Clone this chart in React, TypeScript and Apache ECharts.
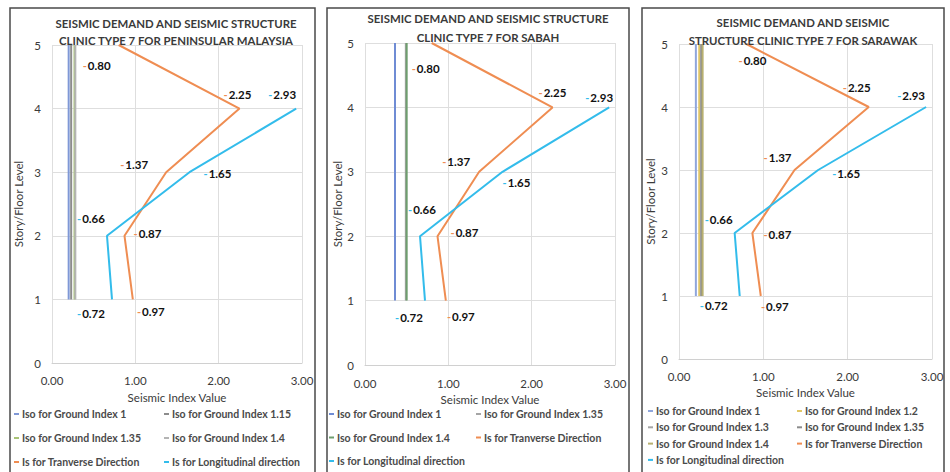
import React, { useEffect, useRef } from "react";
import * as echarts from "echarts";

// ---- data ----
const floors = [1, 2, 3, 4, 5];
const transverseValues = [0.97, 0.87, 1.37, 2.25, 0.8];
const longitudinalValues = [0.72, 0.66, 1.65, 2.93];

const p1GroundIndex = ["1", "1.15", "1.35", "1.4"];
const p1Iso = [0.2, 0.23, 0.27, 0.28];
const p2GroundIndex = ["1", "1.35", "1.4"];
const p2Iso = [0.36, 0.49, 0.5];
const p3GroundIndex = ["1", "1.2", "1.3", "1.35", "1.4"];
const p3Iso = [0.2, 0.24, 0.26, 0.27, 0.28];

const p1Title = ["SEISMIC DEMAND AND SEISMIC STRUCTURE", "CLINIC TYPE 7 FOR PENINSULAR MALAYSIA"];
const p2Title = ["SEISMIC DEMAND AND SEISMIC STRUCTURE", "CLINIC TYPE 7 FOR SABAH"];
const p3Title = ["SEISMIC DEMAND AND SEISMIC", "STRUCTURE CLINIC TYPE 7 FOR SARAWAK"];

const xTicks = [0, 1, 2, 3];
const yTicks = [0, 1, 2, 3, 4, 5];

// ---- styles ----
const FONT = "Lato";
const TXT = "#3A3A3A";
const ORANGE = "#EF8D52";
const CYAN = "#33BCEB";
const p1IsoColors = ["#7F98D6", "#8C8C8C", "#A9C477", "#B4B4B4"];
const p2IsoColors = ["#6F8CD4", "#A5A5A5", "#6E9E6E"];
const p3IsoColors = ["#8FA6DC", "#E2C766", "#A5A5A5", "#8C8C8C", "#B8B070"];

// label offsets (px) for each point, per panel
const p1TransOff = [[18, 12], [23, -2], [-32, -8], [-2, -14], [-22, 20]];
const p1LongOff = [[-21, 14], [-16, -17], [28, 1], [-14, -14]];
const p2TransOff = [[15, 16], [27, -4], [-23, -10], [0, -15], [-6, 25]];
const p2LongOff = [[-16, 17], [2, -27], [14, 11], [-10, -10]];
const p3TransOff = [[14, 10], [25, 1], [-17, -13], [-12, -20], [6, 16]];
const p3LongOff = [[-26, 9], [-16, -14], [28, 3], [-15, -12]];

type Panel = {
  grid: { left: number; top: number; width: number; height: number };
  box: { x: number; w: number };
  title: string[];
  titleX: number;
  titleY: number[];
  gi: string[];
  iso: number[];
  isoColors: string[];
  transOff: number[][];
  longOff: number[][];
  legendLeft: number[];
  legendTop: number;
  legendGap: number;
  yNameGap: number;
  xLabelMargin: number;
  xNameGap: number;
};

const panels: Panel[] = [
  {
    grid: { left: 52, top: 45, width: 250, height: 318 },
    box: { x: 10, w: 305 },
    title: p1Title, titleX: 176, titleY: [23, 40],
    gi: p1GroundIndex, iso: p1Iso, isoColors: p1IsoColors,
    transOff: p1TransOff, longOff: p1LongOff,
    legendLeft: [14, 164], legendTop: 408, legendGap: 12,
    yNameGap: 28, xLabelMargin: 11, xNameGap: 28,
  },
  {
    grid: { left: 365, top: 43, width: 250, height: 322 },
    box: { x: 327, w: 302 },
    title: p2Title, titleX: 488, titleY: [18, 37],
    gi: p2GroundIndex, iso: p2Iso, isoColors: p2IsoColors,
    transOff: p2TransOff, longOff: p2LongOff,
    legendLeft: [329, 476], legendTop: 408, legendGap: 11.5,
    yNameGap: 22, xLabelMargin: 12, xNameGap: 24,
  },
  {
    grid: { left: 679, top: 44, width: 253, height: 315 },
    box: { x: 642, w: 302 },
    title: p3Title, titleX: 803, titleY: [22, 40],
    gi: p3GroundIndex, iso: p3Iso, isoColors: p3IsoColors,
    transOff: p3TransOff, longOff: p3LongOff,
    legendLeft: [648, 797], legendTop: 405, legendGap: 4.3,
    yNameGap: 23, xLabelMargin: 11, xNameGap: 27,
  },
];

function buildOption() {
  const grid: any[] = [];
  const xAxis: any[] = [];
  const yAxis: any[] = [];
  const series: any[] = [];
  const legend: any[] = [];
  const graphic: any[] = [];

  panels.forEach((p, pi) => {
    const pre = `p${pi}|`;
    grid.push({ ...p.grid, containLabel: false });
    xAxis.push({
      type: "value",
      gridIndex: pi,
      min: xTicks[0],
      max: xTicks[xTicks.length - 1],
      interval: 1,
      name: "Seismic Index Value",
      nameLocation: "middle",
      nameGap: p.xNameGap,
      nameTextStyle: { fontFamily: FONT, fontSize: 11.5, color: TXT },
      axisLine: { show: true, lineStyle: { color: "#D0D0D0" } },
      axisTick: { show: false },
      axisLabel: {
        fontFamily: FONT, fontSize: 11.5, color: TXT, margin: p.xLabelMargin,
        formatter: (v: number) => v.toFixed(2),
      },
      splitLine: { show: true, lineStyle: { color: "#DEDEDE" } },
    });
    yAxis.push({
      type: "value",
      gridIndex: pi,
      min: yTicks[0],
      max: yTicks[yTicks.length - 1],
      interval: 1,
      name: "Story/Floor Level",
      nameLocation: "middle",
      nameGap: p.yNameGap,
      nameTextStyle: { fontFamily: FONT, fontSize: 11.5, color: TXT },
      axisLine: { show: false },
      axisTick: { show: false },
      axisLabel: { fontFamily: FONT, fontSize: 11.5, color: TXT, margin: 11 },
      splitLine: { show: true, lineStyle: { color: "#DEDEDE" } },
    });

    const names: string[] = [];
    p.gi.forEach((g, i) => {
      const name = `${pre}Iso for Ground Index ${g}`;
      names.push(name);
      series.push({
        type: "line",
        name,
        xAxisIndex: pi,
        yAxisIndex: pi,
        data: floors.map((f) => [p.iso[i], f]),
        symbol: "none",
        color: p.isoColors[i],
        lineStyle: { width: 2, color: p.isoColors[i] },
        z: 2,
      });
    });

    const labelCfg = (color: string) => ({
      show: true,
      position: "inside",
      formatter: (par: any) => `{d|-}{v|${par.value[0].toFixed(2)}}`,
      rich: {
        d: { color, fontFamily: FONT, fontSize: 11, fontWeight: "bold", padding: [0, 1, 0, 0] },
        v: { color: "#111", fontFamily: FONT, fontSize: 11.5, fontWeight: "bold" },
      },
    });

    const tName = `${pre}Is for Tranverse Direction`;
    const lName = `${pre}Is for Longitudinal direction`;
    names.push(tName, lName);
    series.push({
      type: "line",
      name: tName,
      xAxisIndex: pi,
      yAxisIndex: pi,
      data: transverseValues.map((v, i) => ({
        value: [v, floors[i]],
        label: { offset: p.transOff[i] },
      })),
      symbol: "circle",
      symbolSize: 0.1,
      showSymbol: true,
      color: ORANGE,
      lineStyle: { width: 2, color: ORANGE },
      label: labelCfg(ORANGE),
      z: 3,
    });
    series.push({
      type: "line",
      name: lName,
      xAxisIndex: pi,
      yAxisIndex: pi,
      data: longitudinalValues.map((v, i) => ({
        value: [v, floors[i]],
        label: { offset: p.longOff[i] },
      })),
      symbol: "circle",
      symbolSize: 0.1,
      showSymbol: true,
      color: CYAN,
      lineStyle: { width: 2, color: CYAN },
      label: labelCfg(CYAN),
      z: 4,
    });

    [0, 1].forEach((col) => {
      legend.push({
        orient: "vertical",
        left: p.legendLeft[col],
        top: p.legendTop,
        padding: 0,
        itemGap: p.legendGap,
        itemWidth: 5,
        itemHeight: 2,
        icon: "rect",
        selectedMode: false,
        data: names.filter((_, i) => i % 2 === col),
        formatter: (n: string) => n.split("|")[1],
        textStyle: {
          fontFamily: FONT, fontSize: 10.5, fontWeight: "bold", color: "#4A4A4A",
          lineHeight: 12, padding: [0, 0, 0, -2],
        },
      });
    });

    graphic.push({
      type: "rect",
      shape: { x: p.box.x, y: 8, width: p.box.w, height: 480 },
      style: { fill: "none", stroke: "#4A4A4A", lineWidth: 1.5 },
      z: 0,
    });
    p.title.forEach((t, i) => {
      graphic.push({
        type: "text",
        x: p.titleX,
        y: p.titleY[i],
        style: {
          text: t,
          fill: TXT,
          font: `bold 11.4px ${FONT}`,
          textAlign: "center",
          textVerticalAlign: "middle",
        },
        z: 10,
      });
    });
  });

  return {
    animation: false,
    backgroundColor: "#fff",
    grid,
    xAxis,
    yAxis,
    series,
    legend,
    graphic,
  };
}

export default function App() {
  const ref = useRef<HTMLDivElement>(null);
  useEffect(() => {
    if (!ref.current) return;
    const chart = echarts.init(ref.current, undefined, { renderer: "svg" });
    chart.setOption(buildOption() as any);
    return () => chart.dispose();
  }, []);
  return (
    <div
      ref={ref}
      style={{ position: "fixed", left: 0, top: 0, width: 950, height: 472, background: "#fff" }}
    />
  );
}
